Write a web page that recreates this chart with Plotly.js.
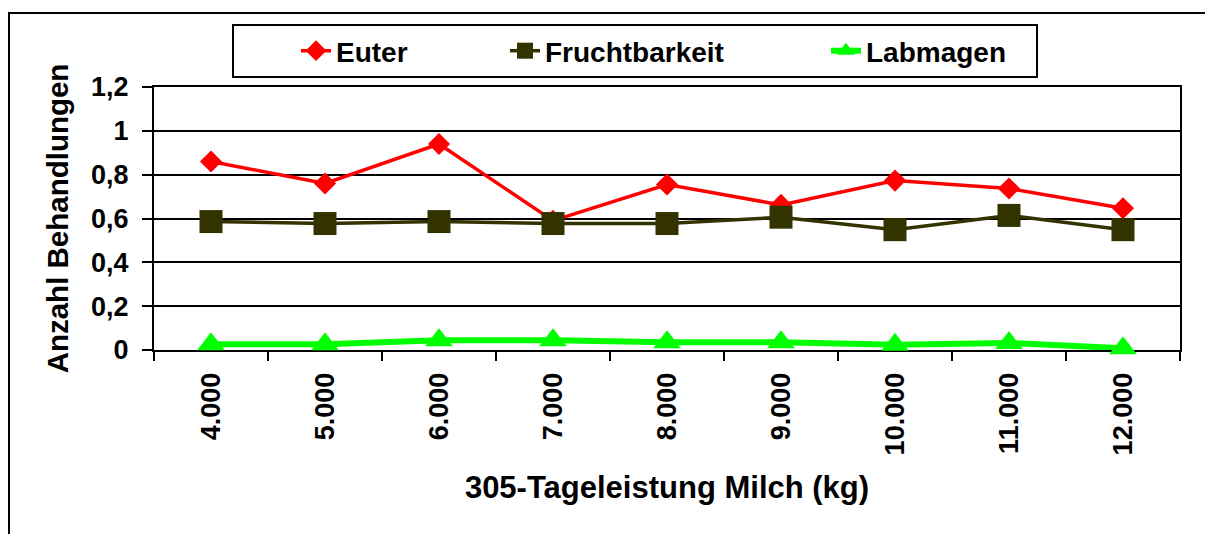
<!DOCTYPE html>
<html>
<head>
<meta charset="utf-8">
<script src="https://cdn.plot.ly/plotly-3.0.1.min.js"></script>
<style>
  html, body { margin: 0; padding: 0; background: #ffffff; }
  #chart { width: 1205px; height: 534px; }
</style>
</head>
<body>
<div id="chart"></div>
<script>
// ---- data ----
const categories = ['4.000', '5.000', '6.000', '7.000', '8.000', '9.000', '10.000', '11.000', '12.000'];
const euter = [0.86, 0.76, 0.94, 0.59, 0.755, 0.662, 0.773, 0.737, 0.647];
const fruchtbarkeit = [0.586, 0.577, 0.586, 0.577, 0.577, 0.606, 0.549, 0.614, 0.549];
const labmagen = [0.026, 0.026, 0.044, 0.044, 0.035, 0.035, 0.024, 0.032, 0.008];
const seriesNames = ['Euter', 'Fruchtbarkeit', 'Labmagen'];
const yTitle = 'Anzahl Behandlungen';
const xTitle = '305-Tageleistung Milch (kg)';

const FONT = 'Liberation Sans, Arial, sans-serif';

const traces = [
  {
    x: categories, y: euter, name: seriesNames[0], type: 'scatter', mode: 'lines+markers',
    line: { color: '#ff0000', width: 3.5 },
    marker: { symbol: 'diamond', size: 17, color: '#ff0000' },
    cliponaxis: false, legend: 'legend'
  },
  {
    x: categories, y: fruchtbarkeit, name: seriesNames[1], type: 'scatter', mode: 'lines+markers',
    line: { color: '#333300', width: 3.5 },
    marker: { symbol: 'square', size: 23, color: '#333300' },
    cliponaxis: false, legend: 'legend2'
  },
  {
    x: categories, y: labmagen, name: seriesNames[2], type: 'scatter', mode: 'lines+markers',
    line: { color: '#00ff00', width: 6 },
    marker: { symbol: 'triangle-up', size: 24, color: '#00ff00' },
    cliponaxis: false, legend: 'legend3'
  }
];

const L = 154, R = 1180, T = 87, B = 350;
const W = R - L, H = B - T;
const px = v => (v - L) / W;
const py = v => (B - v) / H;

const legendFont = { family: FONT, size: 28, color: '#000000', weight: 700 };
const legendBase = {
  orientation: 'h', xanchor: 'left', yanchor: 'middle', y: py(51),
  bgcolor: 'rgba(0,0,0,0)', borderwidth: 0, font: legendFont
};

const layout = {
  width: 1205, height: 534,
  margin: { l: L, r: 1205 - R, t: T, b: 534 - B, pad: 0 },
  paper_bgcolor: '#ffffff', plot_bgcolor: '#ffffff',
  separators: ',.',
  font: { family: FONT, color: '#000000' },
  showlegend: true,
  legend: Object.assign({}, legendBase, { x: px(296) }),
  legend2: Object.assign({}, legendBase, { x: px(505) }),
  legend3: Object.assign({}, legendBase, { x: px(826) }),
  xaxis: {
    type: 'category', range: [-0.5, 8.5],
    tickangle: -90, tickson: 'boundaries',
    ticks: 'outside', ticklen: 9, tickwidth: 2, tickcolor: '#000000',
    ticklabelstandoff: 10,
    tickfont: { family: FONT, size: 27, color: '#000000', weight: 700 },
    showline: true, linecolor: '#000000', linewidth: 2, mirror: true,
    showgrid: false, zeroline: false, layer: 'below traces',
    title: { text: xTitle, font: { family: FONT, size: 31, color: '#000000', weight: 700 }, standoff: 22 },
    automargin: false, fixedrange: true
  },
  yaxis: {
    range: [0, 1.2], dtick: 0.2, tick0: 0,
    ticks: 'outside', ticklen: 10, tickwidth: 2, tickcolor: '#000000',
    ticklabelstandoff: 8,
    tickfont: { family: FONT, size: 27, color: '#000000', weight: 700 },
    showline: true, linecolor: '#000000', linewidth: 2, mirror: true,
    showgrid: true, gridcolor: '#000000', gridwidth: 2,
    zeroline: false, layer: 'below traces',
    title: { text: yTitle, font: { family: FONT, size: 29.5, color: '#000000', weight: 700 }, standoff: 14 },
    automargin: false, fixedrange: true
  },
  shapes: [
    { type: 'rect', xref: 'paper', yref: 'paper',
      x0: px(9), x1: px(1215), y0: py(545), y1: py(13),
      line: { color: '#000000', width: 2 }, fillcolor: 'rgba(0,0,0,0)', layer: 'above' },
    { type: 'rect', xref: 'paper', yref: 'paper',
      x0: px(233), x1: px(1037), y0: py(77), y1: py(25),
      line: { color: '#000000', width: 2 }, fillcolor: 'rgba(0,0,0,0)', layer: 'below' }
  ]
};

Plotly.newPlot('chart', traces, layout, { staticPlot: true, displayModeBar: false });
</script>
</body>
</html>
